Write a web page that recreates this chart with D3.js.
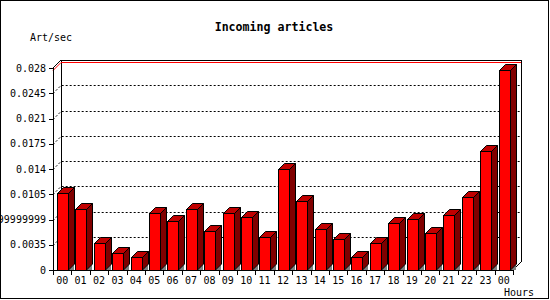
<!DOCTYPE html>
<html>
<head>
<meta charset="utf-8">
<script src="https://cdn.jsdelivr.net/npm/d3@7"></script>
<style>
  body { margin: 0; background: #fff; }
  svg text { font-family: "DejaVu Sans Mono", "Liberation Mono", monospace; font-size: 10px; fill: #000; }
  .axis path, .axis line { stroke: #000; shape-rendering: crispEdges; }
</style>
</head>
<body>
<svg class="chart" width="550" height="300"></svg>
<script>
var hours = ["00","01","02","03","04","05","06","07","08","09","10","11",
             "12","13","14","15","16","17","18","19","20","21","22","23","00"];

// articles per second
var rates = [0.01063, 0.00841, 0.00370, 0.00231, 0.00176, 0.00786, 0.00679, 0.00841,
             0.00541, 0.00786, 0.00730, 0.00453, 0.01395, 0.00956, 0.00564, 0.00425,
             0.00176, 0.00370, 0.00647, 0.00703, 0.00508, 0.00758, 0.01008, 0.01650,
             0.02772];

var yTicks = [0, 0.0035, 0.007, 0.0105, 0.014, 0.0175, 0.021, 0.0245, 0.028];
var yTickLabels = ["0", "0.0035", "0.00699999999", "0.0105", "0.014",
                   "0.0175", "0.021", "0.0245", "0.028"];

var margin = {top: 68, left: 53},
    width = 460,
    height = 202,
    depth = 8,      // depth of the back wall
    barWidth = 11,
    barDepth = 6;

var svg = d3.select(".chart");

// outer frame
svg.append("rect")
    .attr("x", 0.5).attr("y", 0.5)
    .attr("width", 547.5).attr("height", 297.5)
    .attr("fill", "#fff")
    .attr("stroke", "#000")
    .attr("shape-rendering", "crispEdges");
svg.append("path")
    .attr("d", "M548.5,1V299M1,298.5H549")
    .attr("stroke", "#000")
    .attr("fill", "none")
    .attr("shape-rendering", "crispEdges");

svg.append("text")
    .attr("x", 274).attr("y", 31)
    .attr("text-anchor", "middle")
    .style("font-weight", "bold")
    .style("font-size", "11.6px")
    .text("Incoming articles");

svg.append("text")
    .attr("x", 30).attr("y", 41)
    .text("Art/sec");

var chart = svg.append("g")
    .attr("transform", "translate(" + margin.left + "," + margin.top + ")");

var x = d3.scaleBand()
    .domain(d3.range(hours.length))
    .range([0, width]);

var y = d3.scaleLinear()
    .domain([0, 0.028])
    .range([height, 0]);

// back wall
chart.append("path")
    .attr("d", "M" + depth + "," + (height - depth) + "V" + (-depth) +
               "H" + (width + depth) + "V" + (height - depth))
    .attr("fill", "none")
    .attr("stroke", "#000")
    .attr("shape-rendering", "crispEdges");

chart.append("path")
    .attr("d", "M0,0L" + depth + "," + (-depth) +
               "M" + width + "," + height + "L" + (width + depth) + "," + (height - depth))
    .attr("fill", "none")
    .attr("stroke", "#000");

// dotted grid on the back wall
var grid = chart.selectAll(".grid")
    .data(yTicks.filter(function(d) { return d > 0 && d < 0.028; }))
    .enter().append("path")
    .attr("class", "grid")
    .attr("d", function(d) {
      var yy = Math.round(y(d)) + 0.5;
      return "M0," + yy + "L" + depth + "," + (yy - depth) + "H" + (width + depth);
    })
    .attr("fill", "none")
    .attr("stroke", "#000")
    .attr("stroke-dasharray", "2,2");

// max line
var maxY = Math.round(y(d3.max(rates))) + 0.5;
chart.append("path")
    .attr("d", "M0," + maxY + "L" + depth + "," + (maxY - depth) + "H" + (width + depth))
    .attr("fill", "none")
    .attr("stroke", "#f00");

// bars
var bars = chart.selectAll("g.bar")
    .data(rates)
    .enter().append("g")
    .attr("class", "bar")
    .attr("transform", function(d, i) { return "translate(" + Math.round(x(i) + 4) + ",0)"; });

bars.append("path")
    .attr("d", "M" + barWidth + "," + height + "L" + (barWidth + barDepth) + "," + (height - barDepth) +
               "V" + height + "Z")
    .attr("fill", "#808080");

bars.append("path")
    .attr("d", function(d) {
      var t = Math.round(y(d)) + 0.5;
      return "M" + (barWidth + 0.5) + "," + t + "L" + (barWidth + barDepth + 0.5) + "," + (t - barDepth) +
             "V" + (height - barDepth) + "L" + (barWidth + 0.5) + "," + height + "Z";
    })
    .attr("fill", "#800000")
    .attr("stroke", "#000");

bars.append("path")
    .attr("d", function(d) {
      var t = Math.round(y(d)) + 0.5;
      return "M0.5," + t + "L" + (barDepth + 0.5) + "," + (t - barDepth) +
             "H" + (barWidth + barDepth + 0.5) + "L" + (barWidth + 0.5) + "," + t + "Z";
    })
    .attr("fill", "#c00000")
    .attr("stroke", "#000");

bars.append("rect")
    .attr("x", 0.5)
    .attr("y", function(d) { return Math.round(y(d)) + 0.5; })
    .attr("width", barWidth)
    .attr("height", function(d) { return height - Math.round(y(d)); })
    .attr("fill", "#f00")
    .attr("stroke", "#000")
    .attr("shape-rendering", "crispEdges");

// axes
var yAxis = d3.axisLeft(y)
    .tickValues(yTicks)
    .tickFormat(function(d, i) { return yTickLabels[i]; })
    .tickSize(4)
    .tickSizeOuter(0)
    .tickPadding(3);

chart.append("g")
    .attr("class", "y axis")
    .call(yAxis);

var xAxis = d3.axisBottom(x)
    .tickFormat(function(d) { return hours[d]; })
    .tickSize(0)
    .tickPadding(7);

chart.append("g")
    .attr("class", "x axis")
    .attr("transform", "translate(0," + height + ")")
    .call(xAxis);

chart.selectAll(".axis .domain").remove();

chart.append("path")
    .attr("d", "M0.5,0V" + (height + 0.5) + "H" + width)
    .attr("fill", "none")
    .attr("stroke", "#000")
    .attr("shape-rendering", "crispEdges");

// ticks between the hour labels
chart.selectAll(".xtick")
    .data(d3.range(hours.length + 1))
    .enter().append("line")
    .attr("class", "xtick")
    .attr("x1", function(i) { return Math.round(i * x.step()) + 0.5; })
    .attr("x2", function(i) { return Math.round(i * x.step()) + 0.5; })
    .attr("y1", height)
    .attr("y2", height + 5)
    .attr("stroke", "#000")
    .attr("shape-rendering", "crispEdges");

chart.selectAll(".axis text").attr("fill", "#000");

svg.append("text")
    .attr("x", 504).attr("y", 296)
    .text("Hours");
</script>
</body>
</html>
